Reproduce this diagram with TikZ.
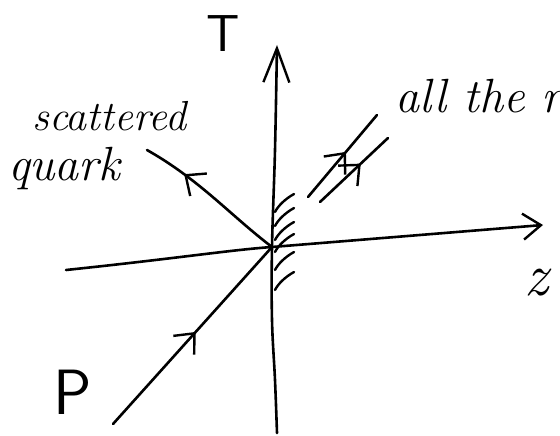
\documentclass[tikz,border=0pt]{standalone}
\usetikzlibrary{arrows.meta,decorations.markings}
\tikzset{chev/.tip={Straight Barb[length=16pt,width=28pt,line width=2.4pt]}}
\begin{document}
\begin{tikzpicture}[x=1pt,y=-1pt,
  pen/.style={line width=2.6pt,line cap=round,line join=round,black},
  hatch/.style={line width=2.4pt,line cap=round},
  midarrow/.style={postaction={decorate},decoration={markings,
     mark=at position #1 with {\arrow{chev}}}},
  lbl/.style={inner sep=0pt,font=\itshape}]
\useasboundingbox (0,0) rectangle (560,436);
% points
\coordinate (O) at (272,247);
\coordinate (Tbot) at (277,433);
\coordinate (Ttop) at (277,45);
\coordinate (Zleft) at (66,270);
\coordinate (Zright) at (543,225);
\coordinate (Pstart) at (113,424);
\coordinate (Qend) at (147,150);
\coordinate (A1) at (308,197);
\coordinate (A2) at (377,115);
\coordinate (B1) at (320,202);
\coordinate (B2) at (388,138);
% T axis (slightly wavy)
\draw[pen,-{Straight Barb[length=34pt,width=26pt,line width=2.4pt]}]
  plot[smooth,tension=0.6] coordinates {(Tbot) (275,380) (272,320) (O) (275,150) (Ttop)};
% z axis
\draw[pen,-{Straight Barb[length=18pt,width=26pt,line width=2.4pt]}]
  (Zleft) .. controls (180,258) and (230,250) .. (O) -- (Zright);
% incoming P
\draw[pen,midarrow=0.52] (Pstart) -- (O);
% scattered quark
\draw[pen,midarrow=0.72] (O) .. controls (230,215) and (200,180) .. (Qend);
% all the rest (double line)
\draw[pen,midarrow=0.55] (A1) -- (A2);
\draw[pen,midarrow=0.6] (B1) -- (B2);
% hatching on the axis near the vertex
\foreach \y in {212,226,240,252,270,290}
  \draw[hatch] (275,\y) .. controls (278,\y-6) and (285,\y-13) .. ++(19,-18);
% labels
\node[lbl,anchor=center] (T) at (223,34) {\fontsize{52}{52}\selectfont\sffamily\upshape T};
\node[lbl,anchor=base west] (scat) at (32,131) {\fontsize{42}{42}\selectfont scattered};
\node[lbl,anchor=base west] (quark) at (8,180) {\fontsize{48}{48}\selectfont quark};
\node[lbl,anchor=base west] (rest) at (395,113) {\fontsize{48}{48}\selectfont all the r};
\node[lbl,anchor=center] (P) at (73,392) {\fontsize{64}{64}\selectfont\sffamily\upshape P};
\node[lbl,anchor=center] (z) at (536,283) {\fontsize{60}{60}\selectfont z};
\end{tikzpicture}
\end{document}
